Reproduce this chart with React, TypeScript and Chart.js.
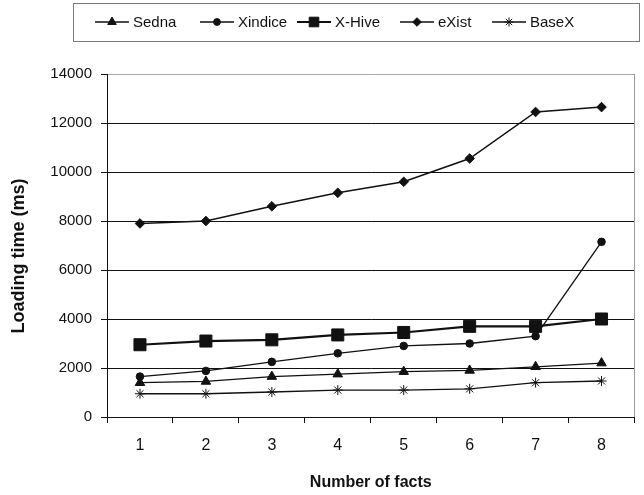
import React, { useEffect, useRef } from 'react';
import { Chart, registerables } from 'chart.js';
import { drawPoint } from 'chart.js/helpers';

Chart.register(...registerables);

const categories = ['1', '2', '3', '4', '5', '6', '7', '8'];
const sedna = [1400, 1450, 1650, 1750, 1850, 1900, 2050, 2200];
const xindice = [1650, 1880, 2250, 2600, 2900, 3000, 3300, 7150];
const xhive = [2950, 3100, 3150, 3350, 3450, 3700, 3700, 4000];
const exist = [7900, 8000, 8600, 9150, 9600, 10550, 12450, 12650];
const basex = [950, 950, 1020, 1100, 1100, 1150, 1400, 1470];
const yTicks = [0, 2000, 4000, 6000, 8000, 10000, 12000, 14000];

const seriesNames = ['Sedna', 'Xindice', 'X-Hive', 'eXist', 'BaseX'];
const seriesValues = [sedna, xindice, xhive, exist, basex];
const pointStyles: any[] = ['triangle', 'circle', 'rect', 'rectRot', 'star'];
const pointRadii = [5.5, 3.8, 8.5, 4.8, 5];
const lineWidths = [1.3, 1.3, 2.2, 1.5, 1.3];

const INK = '#111111';
const FONT = "'Liberation Sans', Arial, sans-serif";
const BOLD = "'Liberation Sans', Arial, sans-serif";

// legend item start x (layout)
const legendLineStarts = [95, 200, 297, 400, 492];
const legendLineLen = 34;

const decorPlugin = {
  id: 'decor',
  afterDraw(chart: any) {
    const ctx = chart.ctx;
    const area = chart.chartArea;
    ctx.save();
    // plot-area right border
    ctx.strokeStyle = '#9a9a9a';
    ctx.lineWidth = 1;
    ctx.beginPath();
    ctx.moveTo(Math.round(area.right) - 0.5, area.top);
    ctx.lineTo(Math.round(area.right) - 0.5, area.bottom);
    ctx.stroke();

    // legend box
    ctx.strokeStyle = '#7a7a7a';
    ctx.strokeRect(73.5, 3.5, 566, 38);
    const cy = 22;
    ctx.font = `15px ${FONT}`;
    ctx.textBaseline = 'middle';
    ctx.textAlign = 'left';
    seriesNames.forEach((name, i) => {
      const x0 = legendLineStarts[i];
      ctx.strokeStyle = INK;
      ctx.lineWidth = lineWidths[i];
      ctx.beginPath();
      ctx.moveTo(x0, cy);
      ctx.lineTo(x0 + legendLineLen, cy);
      ctx.stroke();
      ctx.fillStyle = INK;
      ctx.strokeStyle = INK;
      ctx.lineWidth = 1;
      drawPoint(ctx, { pointStyle: pointStyles[i], radius: pointRadii[i] * (i === 2 ? 0.8 : 0.9), borderWidth: 1, rotation: 0 } as any, x0 + legendLineLen / 2, cy);
      ctx.fillStyle = INK;
      ctx.fillText(name, x0 + legendLineLen + 4, cy + 1);
    });

    // y-axis title
    ctx.save();
    ctx.translate(19, 256);
    ctx.rotate(-Math.PI / 2);
    ctx.font = `bold 18px ${BOLD}`;
    ctx.textAlign = 'center';
    ctx.textBaseline = 'middle';
    ctx.fillStyle = INK;
    ctx.fillText('Loading time (ms)', 0, 0);
    ctx.restore();
    ctx.restore();
  },
};

export default function App() {
  const ref = useRef<HTMLCanvasElement | null>(null);
  useEffect(() => {
    if (!ref.current) return;
    const chart = new Chart(ref.current, {
      type: 'line',
      data: {
        labels: categories,
        datasets: seriesNames.map((name, i) => ({
          label: name,
          data: seriesValues[i],
          borderColor: INK,
          backgroundColor: INK,
          borderWidth: lineWidths[i],
          pointStyle: pointStyles[i],
          pointRadius: pointRadii[i],
          pointBorderWidth: 1,
          pointBackgroundColor: INK,
          pointBorderColor: INK,
          tension: 0,
          fill: false,
        })),
      },
      options: {
        responsive: false,
        animation: false,
        devicePixelRatio: 1,
        layout: { padding: { top: 74, right: 2, left: 0, bottom: 0 } },
        plugins: {
          legend: { display: false },
          tooltip: { enabled: false },
        },
        scales: {
          x: {
            type: 'category',
            offset: true,
            grid: {
              offset: true,
              drawOnChartArea: false,
              drawTicks: true,
              tickLength: 6,
              tickColor: INK,
            },
            border: { color: INK, width: 1 },
            ticks: {
              color: INK,
              font: { family: FONT, size: 16 },
              padding: 13,
              maxRotation: 0,
            },
            title: {
              display: true,
              text: 'Number of facts',
              color: INK,
              font: { family: BOLD, size: 16, weight: 'bold' },
              padding: { top: 0, bottom: 3 },
            },
            afterFit(scale: any) {
              scale.height = 78;
            },
          },
          y: {
            min: 0,
            max: 14000,
            afterBuildTicks(scale: any) {
              scale.ticks = yTicks.map((v) => ({ value: v }));
            },
            grid: {
              color: (c: any) => (c.tick && c.tick.value === 14000 ? '#a8a8a8' : INK),
              tickColor: INK,
              tickLength: 6,
              drawTicks: true,
            },
            border: { color: INK, width: 1 },
            ticks: {
              color: INK,
              font: { family: FONT, size: 15 },
              padding: 9,
              callback: (v: any) => String(v),
            },
            afterFit(scale: any) {
              scale.width = 107;
            },
          },
        },
      },
      plugins: [decorPlugin],
    } as any);
    return () => chart.destroy();
  }, []);
  return (
    <div style={{ position: 'fixed', left: 0, top: 0, width: 644, height: 495, background: '#fff' }}>
      <canvas ref={ref} width={644} height={495} style={{ display: 'block' }} />
    </div>
  );
}
